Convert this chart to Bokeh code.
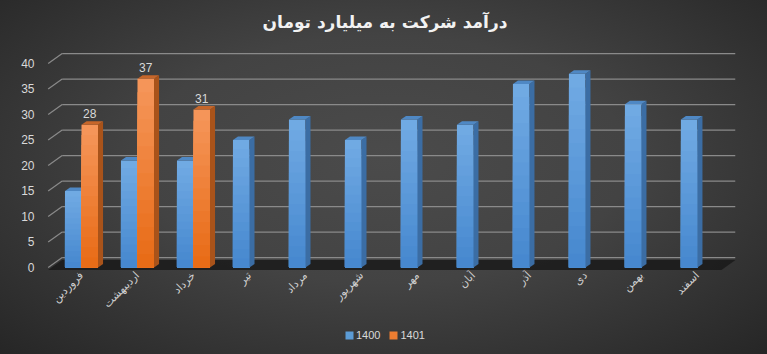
from bokeh.plotting import figure
from bokeh.models import (Range1d, FixedTicker, Legend, LegendItem, ColumnDataSource)
from bokeh.core.properties import value
from bokeh.embed import file_html
from bokeh.resources import INLINE

# ---------------- data ----------------
months = ["فروردین", "اردیبهشت", "خرداد", "تیر", "مرداد", "شهریور",
          "مهر", "آبان", "آذر", "دی", "بهمن", "اسفند"]
revenue_1400 = [15, 21, 21, 25, 29, 25, 29, 28, 36, 38, 32, 29]
revenue_1401 = [28, 37, 31]
series_names = ["1400", "1401"]
y_ticks = [0, 5, 10, 15, 20, 25, 30, 35, 40]
title_text = "درآمد شرکت به میلیارد تومان"

# ---------------- styling ----------------
BW = 0.295      # bar front width (x units)
DX = 0.09       # 3D depth x
DY = 0.68       # 3D depth y
WX = 0.25       # back wall offset x
WY = 1.95       # back wall offset y
N = 14          # gradient steps

blue = {"top": (0x72, 0xab, 0xe4), "bot": (0x45, 0x87, 0xce), "side": "#3b6da4", "cap": "#4f88c4", "mid": "#5b9bd5"}
orange = {"top": (0xf5, 0x97, 0x5c), "bot": (0xe8, 0x6a, 0x14), "side": "#a9531a", "cap": "#c6662a", "mid": "#ed7d31"}

X0, X1 = -0.625, 11.68
Y0, Y1 = -16.86, 43.72

p = figure(frame_width=689, frame_height=309, output_backend="svg", toolbar_location=None,
           x_range=Range1d(X0, X1), y_range=Range1d(Y0, Y1),
           min_border_left=46, min_border_right=32, min_border_top=0, min_border_bottom=0)
p.background_fill_alpha = 0
p.border_fill_alpha = 0
p.outline_line_color = None
p.xgrid.grid_line_color = None
p.ygrid.grid_line_color = None

p.title.text = title_text
p.title.align = "left"
p.title.offset = 216
p.title.vertical_align = "top"
p.title.text_font = "DejaVu Sans"
p.title.text_font_size = "17px"
p.title.text_font_style = "bold"
p.title.text_color = "#f2f2f2"
p.title.standoff = 22

# axes
p.yaxis.ticker = FixedTicker(ticks=y_ticks)
p.yaxis.axis_line_color = None
p.yaxis.major_tick_line_color = None
p.yaxis.minor_tick_line_color = None
p.yaxis.major_label_text_color = "#d9d9d9"
p.yaxis.major_label_text_font = "Liberation Sans"
p.yaxis.major_label_text_font_size = "12px"
p.yaxis.major_label_standoff = 6
p.xaxis.visible = False

# month labels under the categories (rotated 45°)
cat_src = ColumnDataSource(dict(x=list(range(len(months))), y=[-1.2] * len(months), t=months))
p.text(x="x", y="y", text="t", source=cat_src, angle=0.785, text_align="right",
       text_baseline="middle", text_color="#cfcfcf", text_font=value("DejaVu Sans"),
       text_font_size="11px")

# back-wall gridlines and slanted connectors
p.segment(x0=[X0 + WX + 0.03] * len(y_ticks), y0=[t + WY for t in y_ticks],
          x1=[X1] * len(y_ticks), y1=[t + WY for t in y_ticks],
          line_color="#8a8a8a", line_width=1.2)
p.segment(x0=[X0 + 0.03] * len(y_ticks), y0=y_ticks,
          x1=[X0 + WX + 0.03] * len(y_ticks), y1=[t + WY for t in y_ticks],
          line_color="#8a8a8a", line_width=1.2)

# floor
p.patch(x=[X0 + 0.03, X0 + WX + 0.03, X1, X1 - WX], y=[-0.5, WY - 0.5, WY - 0.5, -0.5],
        fill_color="#1a1a1a", fill_alpha=0.85, line_color=None)


def mix(a, b, t):
    return "#%02x%02x%02x" % tuple(int(round(a[j] + (b[j] - a[j]) * t)) for j in range(3))


def draw_bars(vals, offset, style):
    xs = [i + offset for i in range(len(vals))]
    # vertical gradient: tallest (lightest) first, shorter darker ones over it
    for k in range(N - 1, -1, -1):
        tops = [v * (k + 1) / N for v in vals]
        col = mix(style["bot"], style["top"], (k + 0.5) / N)
        p.vbar(x=xs, bottom=[0] * len(vals), top=tops, width=BW, fill_color=col, line_color=None)
    side_xs = [[x + BW / 2, x + BW / 2 + DX, x + BW / 2 + DX, x + BW / 2] for x in xs]
    side_ys = [[0, DY, v + DY, v] for v in vals]
    p.patches(xs=side_xs, ys=side_ys, fill_color=style["side"], line_color=None)
    top_xs = [[x - BW / 2, x - BW / 2 + DX, x + BW / 2 + DX, x + BW / 2] for x in xs]
    top_ys = [[v, v + DY, v + DY, v] for v in vals]
    p.patches(xs=top_xs, ys=top_ys, fill_color=style["cap"], line_color=None)
    return xs


draw_bars(revenue_1400, -BW / 2, blue)
xs1401 = draw_bars(revenue_1401, BW / 2, orange)

lab_src = ColumnDataSource(dict(x=xs1401, y=[v + 2.2 for v in revenue_1401],
                                t=[str(v) for v in revenue_1401]))
p.text(x="x", y="y", text="t", source=lab_src, text_align="center", text_baseline="middle",
       text_color="#d9d9d9", text_font=value("Liberation Sans"), text_font_size="12px")

# legend proxies (off-screen), solid series colours
lg1 = p.vbar(x=[0], bottom=[-100], top=[-99], width=0.1, fill_color=blue["mid"], line_color=None)
lg2 = p.vbar(x=[0], bottom=[-100], top=[-99], width=0.1, fill_color=orange["mid"], line_color=None)
legend = Legend(items=[LegendItem(label=series_names[0], renderers=[lg1]),
                       LegendItem(label=series_names[1], renderers=[lg2])],
                orientation="horizontal", location=(298, 11),
                background_fill_alpha=0, border_line_color=None,
                label_text_color="#d9d9d9", label_text_font="Liberation Sans", label_text_font_size="11px",
                glyph_width=10, glyph_height=10, spacing=8, label_standoff=2, padding=0, margin=0,
                label_height=14)
p.add_layout(legend, "center")

html = file_html(p, INLINE)
style = ("<style>html,body{margin:0;background:#3a3a3a;"
         "background:radial-gradient(ellipse farthest-corner at 50% 45%, #4b4b4b 0%, #434343 45%, #262626 100%);"
         "min-height:100vh;}</style>")
html = html.replace("</head>", style + "</head>", 1)
open("out.html", "w").write(html)
